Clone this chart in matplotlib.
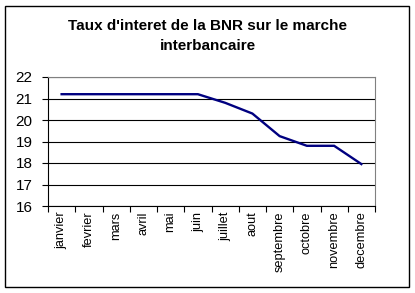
import matplotlib
matplotlib.use("Agg")
import matplotlib.pyplot as plt
from matplotlib.patches import Rectangle

months = ["janvier", "fevrier", "mars", "avril", "mai", "juin", "juillet",
          "aout", "septembre", "octobre", "novembre", "decembre"]
rates = [21.2, 21.2, 21.2, 21.2, 21.2, 21.2, 20.8, 20.3, 19.25, 18.8, 18.8, 17.95]
yticks = [16, 17, 18, 19, 20, 21, 22]

plt.rcParams['font.family'] = ['Liberation Sans', 'DejaVu Sans']

W, H = 415, 293
fig = plt.figure(figsize=(W / 100, H / 100), dpi=100)
fig.patches.append(Rectangle((5 / W, 6 / H), 404 / W, 281 / H, transform=fig.transFigure,
                             fill=False, edgecolor='black', linewidth=1.0))

left, right, top, bottom = 48, 375, 77, 206
ax = fig.add_axes([left / W, 1 - bottom / H, (right - left) / W, (bottom - top) / H])

x = list(range(len(months)))
ax.plot(x, rates, color='#000080', linewidth=1.7, solid_joinstyle='miter')

ax.set_xlim(-0.5, len(months) - 0.5)
ax.set_ylim(16, 22)
ax.set_yticks(yticks)
ax.set_yticklabels([str(v) for v in yticks], fontsize=11)
ax.yaxis.grid(True, color='black', linewidth=0.8)
ax.set_axisbelow(True)

ax.set_xticks([i - 0.5 for i in range(len(months) + 1)])
ax.set_xticklabels([])
ax.set_xticks(x, minor=True)
ax.set_xticklabels(months, minor=True, rotation=90, fontsize=9.2, va='top')
ax.tick_params(axis='x', which='minor', length=0, pad=4)
ax.tick_params(axis='x', which='major', length=4, width=0.8, direction='out')
ax.tick_params(axis='y', length=4, width=0.8, direction='out', pad=7)

for s in ['top', 'right']:
    ax.spines[s].set_color('#808080')
    ax.spines[s].set_linewidth(0.8)
for s in ['left', 'bottom']:
    ax.spines[s].set_color('black')
    ax.spines[s].set_linewidth(0.8)

fig.text(0.5, 1 - 36 / H, "Taux d'interet de la BNR sur le marche\ninterbancaire",
         ha='center', va='center', fontsize=11, fontweight='bold', linespacing=1.6)

fig.savefig("out.png", dpi=100)
